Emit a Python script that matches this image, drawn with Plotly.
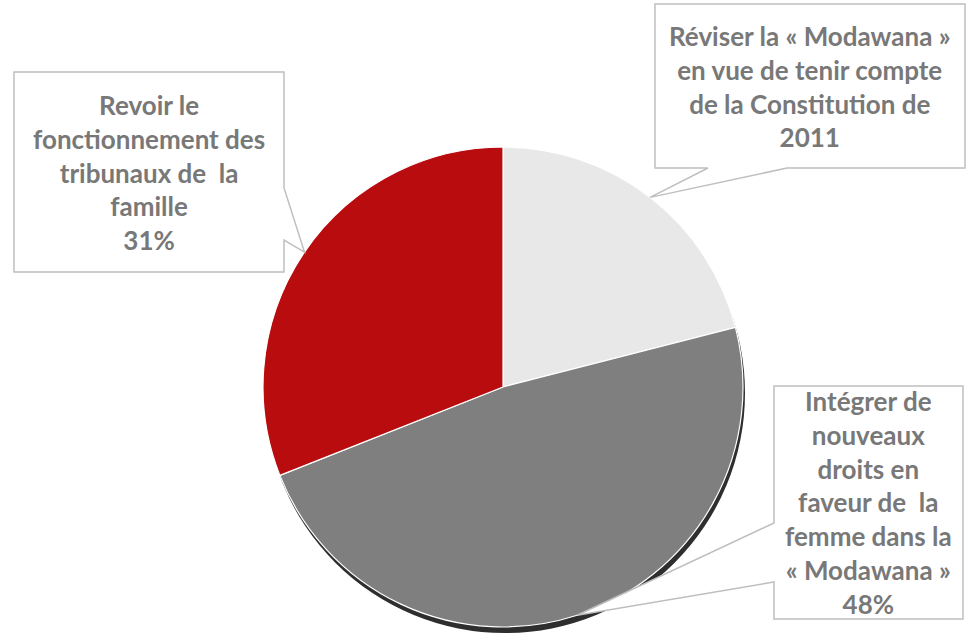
import math

import plotly.graph_objects as go

# data
labels = [
    "Réviser la « Modawana » en vue de tenir compte de la Constitution de 2011",
    "Intégrer de nouveaux droits en faveur de  la femme dans la « Modawana »",
    "Revoir le fonctionnement des tribunaux de  la famille",
]
values = [21, 48, 31]
colors = ["#E8E8E8", "#7F7F7F", "#B80C0E"]
label_lines = [
    ["Réviser la « Modawana »", "en vue de tenir compte", "de la Constitution de", "2011"],
    ["Intégrer de", "nouveaux", "droits en", "faveur de  la", "femme dans la", "« Modawana »"],
    ["Revoir le", "fonctionnement des", "tribunaux de  la", "famille"],
]
show_pct = [False, True, True]

# layout in pixels
W, H = 975, 633
CX, CY, R = 503, 387, 240
# callout boxes: (left, top, right, bottom) and the side the pointer leaves from
boxes = [(655, 4, 965, 168), (774, 386, 963, 619), (14, 72, 284, 272)]
notches = [
    ("bottom", 708, 787),
    ("left", 523, 582),
    ("right", 188, 240),
]
TEXT_COLOR = "#787878"
LINE_COLOR = "#BFBFBF"


def px(x, y):
    return x / W, 1 - y / H


def callout_path(box, notch, tip):
    l, t, r, b = box
    side, a, c = notch
    if side == "bottom":
        pts = [(l, t), (r, t), (r, b), (c, b), tip, (a, b), (l, b)]
    elif side == "left":
        pts = [(l, t), (r, t), (r, b), (l, b), (l, c), tip, (l, a)]
    else:
        pts = [(l, t), (r, t), (r, a), tip, (r, c), (r, b), (l, b)]
    pp = [px(*p) for p in pts]
    return "M " + " L ".join(f"{x:.5f},{y:.5f}" for x, y in pp) + " Z"


fig = go.Figure(go.Pie(
    labels=labels,
    values=values,
    sort=False,
    direction="clockwise",
    rotation=0,
    marker=dict(colors=colors, line=dict(color="#FFFFFF", width=1.2)),
    textinfo="none",
    hoverinfo="label+percent",
    domain=dict(x=[(CX - R) / W, (CX + R) / W], y=[1 - (CY + R) / H, 1 - (CY - R) / H]),
    showlegend=False,
))

shapes = []
# soft dark shadow under the pie
x0, y0 = px(CX - R + 2, CY - R + 6)
x1, y1 = px(CX + R + 2, CY + R + 6)
shapes.append(dict(type="circle", xref="paper", yref="paper", x0=x0, x1=x1, y0=y1, y1=y0,
                   fillcolor="#2E2E2E", line=dict(width=0), layer="below"))

annotations = []
total = sum(values)
cum = 0
for i, v in enumerate(values):
    mid = (cum + v / 2) / total * 2 * math.pi
    cum += v
    tip = (CX + R * math.sin(mid), CY - R * math.cos(mid))
    shapes.append(dict(type="path", xref="paper", yref="paper",
                       path=callout_path(boxes[i], notches[i], tip),
                       fillcolor="#FFFFFF", line=dict(color=LINE_COLOR, width=1.5)))
    lines = list(label_lines[i])
    if show_pct[i]:
        lines.append(f"{round(v / total * 100)}%")
    l, t, r, b = boxes[i]
    ax, ay = px((l + r) / 2, (t + b) / 2)
    annotations.append(dict(
        x=ax, y=ay, xref="paper", yref="paper", showarrow=False,
        xanchor="center", yanchor="middle",
        text="<br>".join(lines), align="center",
        font=dict(family="Lato, 'Open Sans', sans-serif", size=26, color=TEXT_COLOR,
                  weight="bold"),
    ))

fig.update_layout(
    width=W, height=H,
    margin=dict(l=0, r=0, t=0, b=0),
    paper_bgcolor="#FFFFFF",
    plot_bgcolor="#FFFFFF",
    shapes=shapes,
    annotations=annotations,
)

fig.write_html("out.html", config={"displayModeBar": False},
               post_script="document.body.style.margin='0';")
